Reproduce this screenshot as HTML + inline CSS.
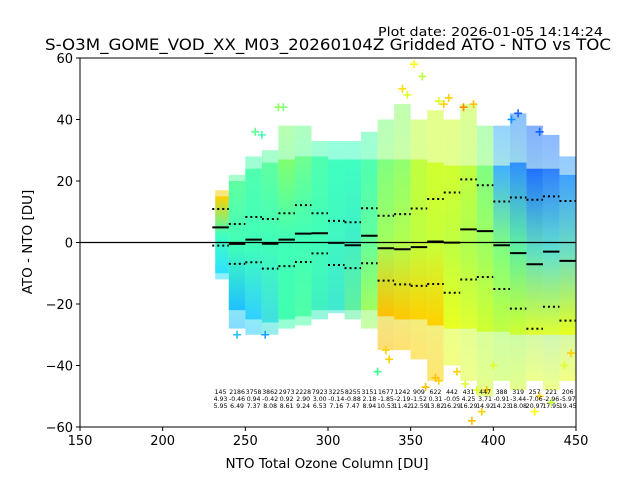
<!DOCTYPE html>
<html><head><meta charset="utf-8"><style>
html,body{margin:0;padding:0;background:#fff;}
svg{display:block;font-family:"DejaVu Sans","Liberation Sans",sans-serif;}
</style></head><body>
<svg id="chart" width="640" height="480" viewBox="0 0 640 480">
<text x="378" y="36" font-size="12.5" textLength="225" lengthAdjust="spacingAndGlyphs">Plot date: 2026-01-05 14:14:24</text>
<text x="45" y="50" font-size="16" textLength="566" lengthAdjust="spacingAndGlyphs">S-O3M_GOME_VOD_XX_M03_20260104Z Gridded ATO - NTO vs TOC</text>
<g id="plot"></g>
<text x="327" y="468" font-size="13.5" text-anchor="middle">NTO Total Ozone Column [DU]</text>
<text transform="translate(32,242) rotate(-90)" font-size="13.5" text-anchor="middle">ATO - NTO [DU]</text>
</svg>
<script>
const binStarts=[230,240,250,260,270,280,290,300,310,320,330,340,350,360,370,380,390,400,410,420,430,440];
const counts=[145,2186,3758,3862,2973,2228,7923,3225,8255,3151,1677,1242,909,622,442,431,447,388,319,257,221,206];
const means=[4.93,-0.46,0.94,-0.42,0.92,2.90,3.00,-0.14,-0.88,2.18,-1.85,-2.19,-1.52,0.31,-0.05,4.25,3.71,-0.91,-3.44,-7.06,-2.96,-5.97];
const stds=[5.95,6.49,7.37,8.08,8.61,9.24,6.53,7.16,7.47,8.94,10.53,11.42,12.59,13.82,16.29,16.29,14.92,14.23,18.08,20.97,17.95,19.45];
const outerTop=[17,22,28,30,38,38,33,33,33,36,40,45,40,43,40,45,38,38,42,38,35,28];
const outerBot=[-12,-28,-30,-30,-28,-27,-25,-23,-25,-28,-35,-35,-38,-45,-40,-45,-50,-45,-48,-45,-48,-45];
const coreTop=[15,20,24,26,27,28,28,27,27,27,27,27,27,26,25,25,25,25,26,24,24,22];
const coreBot=[-10,-22,-25,-26,-25,-24,-22,-22,-22,-22,-24,-25,-25,-27,-28,-28,-29,-29,-30,-30,-30,-30];
const topColors=["#ffd000","#60ffa0","#50ffb0","#60ffa0","#80ff70","#70ff90","#50ffb0","#40ffc0","#40ffc0","#50ffb0","#80ff80","#90ff70","#c0ff40","#d0ff30","#d0ff30","#c0ff40","#80ff80","#40b0ff","#3090ff","#2070ff","#3080ff","#40a0ff"];
const midColors=["#40ffc0","#40ffb8","#40ffb8","#40ffb8","#40ffb8","#40ffb8","#40ffb8","#40f8c0","#40f0c8","#60ffa0","#a0ff60","#b0ff50","#c0ff40","#c8ff38","#c0ff40","#b0ff50","#a0ff60","#80ff80","#60f0a0","#60e0c0","#60e0d0","#70e0c0"];
const botColors=["#30e0ff","#20c0ff","#30d0ff","#40e0e0","#40ffb0","#50ffa8","#40f0c0","#40e8d0","#60f0a0","#a0ff60","#ffc000","#ffc800","#ffd000","#ffd000","#e8ff20","#e0ff30","#d0ff30","#c0ff40","#d0ff30","#e0ff30","#e0ff30","#e8ff20"];
const outX=[352,357,370,367,373,367,382,388,387,393,415,411,428,330,337,345,348,273,262,335,359,365,383,396,400,425,428,443,447,435,260,256,270,245,378,390];
const outY=[58,54,45,46,47,-45,44,45,-58,-55,42,40,36,-42,-38,50,48,44,-30,-35,-47,-44,-46,-48,-40,-55,-50,-40,-36,-52,35,36,44,-30,-42,-48];
const outC=["#ffff00","#c0ff40","#ffd000","#e0ff30","#ffd000","#ffd000","#ff8c00","#ffc000","#ffc000","#ffd000","#2060ff","#1090ff","#1060ff","#40ff90","#ffd000","#ffe000","#e0ff30","#80ff80","#20a0ff","#ffd000","#ffc000","#ffc000","#e0ff30","#ffc000","#e0ff30","#ffff00","#ffd000","#e0ff30","#ffd000","#c0ff40","#40ffb0","#60ff90","#90ff60","#20c0ff","#ffd000","#e0ff30"];
const xTicks=[150,200,250,300,350,400,450];
const yTicks=[-60,-40,-20,0,20,40,60];

const L=80,R=576,T=58,B=427;
const xs=v=>L+(v-150)/300*(R-L);
const ys=v=>T+(60-v)/120*(B-T);
const NS="http://www.w3.org/2000/svg";
const plot=document.getElementById('plot');
const svg=document.getElementById('chart');
function mk(tag,attrs,parent){const e=document.createElementNS(NS,tag);for(const k in attrs)e.setAttribute(k,attrs[k]);(parent||plot).appendChild(e);return e;}
const defs=mk('defs',{},svg);
mk('clipPath',{id:'clip'},defs);
mk('rect',{x:L,y:T,width:R-L,height:B-T},defs.lastChild);
const g=mk('g',{'clip-path':'url(#clip)'});
binStarts.forEach((b,i)=>{
  const gid='grad'+i;
  const gr=mk('linearGradient',{id:gid,x1:0,y1:0,x2:0,y2:1},defs);
  mk('stop',{offset:'0',"stop-color":topColors[i]},gr);
  mk('stop',{offset:'0.5',"stop-color":midColors[i]},gr);
  mk('stop',{offset:'1',"stop-color":botColors[i]},gr);
  const x0=xs(b)+(i==0?3:0), x1=xs(b+10);
  const ro=mk('rect',{x:x0,y:ys(outerTop[i]),width:x1-x0,height:ys(outerBot[i])-ys(outerTop[i]),fill:'url(#'+gid+')',opacity:0.55},g);
  
  
  const rc=mk('rect',{x:x0,y:ys(coreTop[i]),width:x1-x0,height:ys(coreBot[i])-ys(coreTop[i]),fill:'url(#'+gid+')'},g);
  
  
});
outX.forEach((v,i)=>{
  const cx=xs(v),cy=ys(outY[i]);
  const p=mk('path',{d:`M${cx-4},${cy}H${cx+4}M${cx},${cy-4}V${cy+4}`,stroke:outC[i],'stroke-width':1.6},g);
  
  
});
const z=mk('line',{x1:L,x2:R,y1:ys(0),y2:ys(0),stroke:'#000','stroke-width':1.2},g);


binStarts.forEach((b,i)=>{
  const x0=xs(b),x1=xs(b+10);
  const m=mk('line',{x1:x0,x2:x1,y1:ys(means[i]),y2:ys(means[i]),stroke:'#000','stroke-width':2},g);
  
  
  [means[i]+stds[i],means[i]-stds[i]].forEach(v=>{
    const d=mk('line',{x1:x0,x2:x1,y1:ys(v),y2:ys(v),stroke:'#000','stroke-width':2,'stroke-dasharray':'2,3'},g);
    
    
  });
  const cx=xs(b+5);
  [[counts[i],394],[means[i].toFixed(2),401],[stds[i].toFixed(2),408]].forEach(([t,y])=>{
    const tx=mk('text',{x:cx,y:y,'font-size':6.2,'text-anchor':'middle'});
    tx.textContent=t;
    
    
  });
});
const fr=mk('rect',{x:L,y:T,width:R-L,height:B-T,fill:'none',stroke:'#000','stroke-width':1});


xTicks.forEach(v=>{
  const x=xs(v);
  mk('line',{x1:x,x2:x,y1:B,y2:B+4,stroke:'#000'});
  const t=mk('text',{x:x,y:B+18,'font-size':13,'text-anchor':'middle'});
  t.textContent=v;
  
  
});
yTicks.forEach(v=>{
  const y=ys(v);
  mk('line',{x1:L-4,x2:L,y1:y,y2:y,stroke:'#000'});
  const t=mk('text',{x:L-7,y:y+5,'font-size':13,'text-anchor':'end'});
  t.textContent=v<0?'\u2212'+Math.abs(v):v;
  
  
});
</script>
</body></html>
